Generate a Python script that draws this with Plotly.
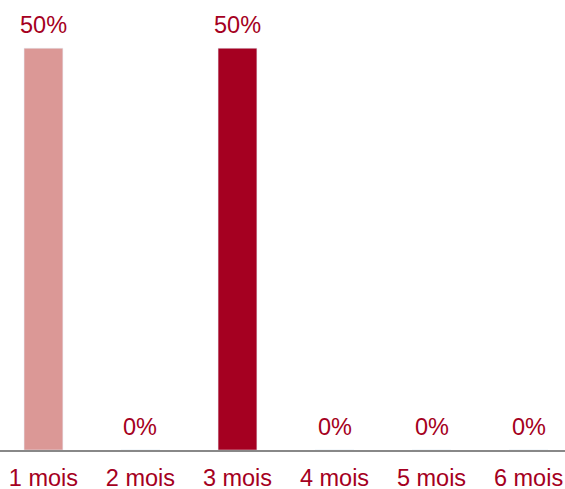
import plotly.graph_objects as go

categories = ["1 mois", "2 mois", "3 mois", "4 mois", "5 mois", "6 mois"]
values = [50, 0, 50, 0, 0, 0]
labels = ["50%", "0%", "50%", "0%", "0%", "0%"]
colors = ["#DB9896", "#A50021", "#A50021", "#DB9896", "#DB9896", "#DB9896"]

text_color = "#A50021"
font_family = "Liberation Sans, Arial, sans-serif"
font_size = 23.5

fig = go.Figure(go.Bar(
    x=categories,
    y=values,
    marker_color=colors,
    width=0.40,
    hoverinfo="skip",
))

for cat, val, lab in zip(categories, values, labels):
    fig.add_annotation(
        x=cat, y=val, text=lab, showarrow=False,
        xanchor="center", yanchor="bottom", yshift=8,
        font=dict(color=text_color, size=font_size, family=font_family),
    )

fig.update_layout(
    width=565,
    height=489,
    margin=dict(l=0, r=0, t=0, b=39, autoexpand=False),
    paper_bgcolor="white",
    plot_bgcolor="white",
    showlegend=False,
    font=dict(family=font_family, color=text_color, size=font_size),
    xaxis=dict(
        range=[-0.448, 5.376],
        automargin=False,
        showline=True,
        linecolor="#888888",
        linewidth=2,
        showgrid=False,
        ticks="outside",
        ticklen=6,
        tickcolor="rgba(0,0,0,0)",
        tickfont=dict(color=text_color, size=font_size, family=font_family),
    ),
    yaxis=dict(
        range=[0, 56],
        visible=False,
        showgrid=False,
        zeroline=False,
    ),
)

fig.write_html(
    "out.html",
    config={"displayModeBar": False},
    post_script="document.body.style.margin='0';document.body.style.overflow='hidden';",
)
